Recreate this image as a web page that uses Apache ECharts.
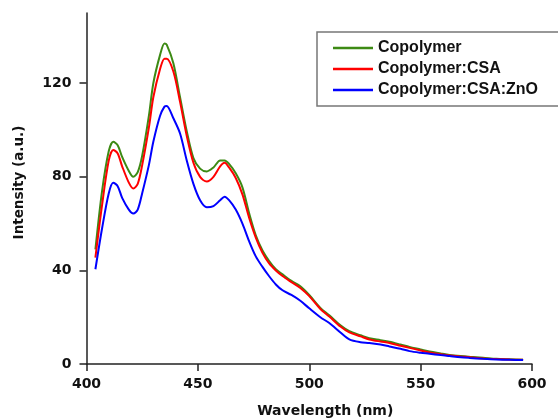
<!DOCTYPE html>
<html>
<head>
<meta charset="utf-8">
<script src="https://cdn.jsdelivr.net/npm/echarts@6/dist/echarts.min.js"></script>
<style>
  html, body { margin: 0; padding: 0; background: #fff; }
  #chart { width: 558px; height: 420px; }
</style>
</head>
<body>
<div id="chart"></div>
<script>
// wavelength (nm)
const wavelengths = [404, 407, 410, 412, 414, 416, 419, 421, 423, 425, 428, 430, 433, 435, 436, 439,
  442, 445, 448, 451, 454, 457, 460, 462, 464, 467, 470, 473, 476, 479, 482, 485, 488, 492, 496,
  500, 505, 509, 514, 518, 523, 527, 532, 536, 541, 545, 550, 554, 559, 563, 568, 572, 578, 584, 590, 596];

const copolymer = [49, 74, 91, 95, 93.5, 88.5, 82.5, 80, 82, 89, 106, 120, 132, 137, 136.5, 128.5,
  114, 99.5, 88, 83.5, 82.3, 84, 87, 87, 85.5, 81.5, 75.5, 64.5, 55, 48.5, 44, 40.5, 38.3, 35.5, 33.2,
  29.5, 24, 20.8, 16.5, 14, 12.3, 11, 10.2, 9.5, 8.3, 7.3, 6.2, 5.3, 4.5, 3.9, 3.4, 3.1, 2.7, 2.2, 2.0, 1.8];

const copolymerCSA = [45.5, 68, 87, 91.5, 90, 84.5, 77.5, 75, 77, 85, 101, 114, 126, 130.5, 130.5, 125,
  112, 97.5, 86, 80, 78, 80, 84.5, 86, 84, 79.5, 72.5, 62.5, 54, 47.5, 43, 40, 37.6, 35, 32.5,
  29, 23.5, 20.3, 16, 13.5, 11.8, 10.5, 9.6, 9, 7.8, 6.9, 5.8, 4.9, 4.2, 3.6, 3.2, 2.9, 2.4, 2.1, 1.9, 1.8];

const copolymerCSAZnO = [40.5, 58, 73, 77.5, 76, 71, 66, 64.3, 66, 73, 85, 95, 106, 110, 110.3, 105,
  98.5, 87, 77, 70, 67, 67.5, 70, 71.5, 70, 66, 60, 52.5, 46, 41.5, 37.5, 34, 31.5, 29.5, 27,
  23.8, 20, 17.5, 13.5, 10.5, 9.3, 9, 8.3, 7.5, 6.5, 5.5, 4.8, 4.4, 3.8, 3.4, 2.9, 2.6, 2.2, 1.9, 1.8, 1.7];

const seriesNames = ["Copolymer", "Copolymer:CSA", "Copolymer:CSA:ZnO"];
const seriesColors = ["#3d8a14", "#ff0000", "#0000ff"];
const yTicks = [0, 40, 80, 120];

const pairs = (ys) => wavelengths.map((x, i) => [x, ys[i]]);
const allData = [copolymer, copolymerCSA, copolymerCSAZnO];

const tickFont = { fontFamily: "DejaVu Sans", fontWeight: "bold", fontSize: 14, color: "#111" };
const axisLineStyle = { color: "#222", width: 1.5 };

const chart = echarts.init(document.getElementById("chart"));
chart.setOption({
  animation: false,
  backgroundColor: "#fff",
  grid: { left: 86.5, right: 26, top: 13, bottom: 56, outerBoundsMode: "none", containLabel: false },
  legend: {
    orient: "vertical",
    left: 317,
    top: 32,
    data: seriesNames,
    icon: "rect",
    itemWidth: 40,
    itemHeight: 2.5,
    itemGap: 5,
    padding: [8, 40, 8, 16],
    borderColor: "#777",
    borderWidth: 1.5,
    textStyle: { fontFamily: "Liberation Sans", fontWeight: "bold", fontSize: 16, lineHeight: 16, color: "#111" }
  },
  xAxis: {
    type: "value",
    min: 400,
    max: 600,
    interval: 50,
    name: "Wavelength (nm)",
    nameLocation: "middle",
    nameGap: 40,
    nameTextStyle: { fontFamily: "DejaVu Sans", fontWeight: "bold", fontSize: 14, color: "#111", padding: [0, 0, 0, 32] },
    axisLine: { onZero: false, lineStyle: axisLineStyle },
    axisTick: { length: 7, lineStyle: axisLineStyle },
    axisLabel: Object.assign({ margin: 13 }, tickFont),
    splitLine: { show: false }
  },
  yAxis: {
    type: "value",
    min: 0,
    max: 150,
    interval: 40,
    name: "Intensity (a.u.)",
    nameLocation: "middle",
    nameGap: 60,
    nameTextStyle: { fontFamily: "DejaVu Sans", fontWeight: "bold", fontSize: 13.5, color: "#111", padding: [0, 0, 0, 12] },
    axisLine: { show: true, lineStyle: axisLineStyle },
    axisTick: { show: true, length: 7, lineStyle: axisLineStyle, customValues: yTicks },
    axisLabel: Object.assign({ margin: 15, customValues: yTicks }, tickFont),
    splitLine: { show: false }
  },
  series: seriesNames.map((name, i) => ({
    name: name,
    type: "line",
    data: pairs(allData[i]),
    smooth: 0.3,
    showSymbol: false,
    color: seriesColors[i],
    lineStyle: { width: 2, color: seriesColors[i] }
  }))
});
</script>
</body>
</html>
